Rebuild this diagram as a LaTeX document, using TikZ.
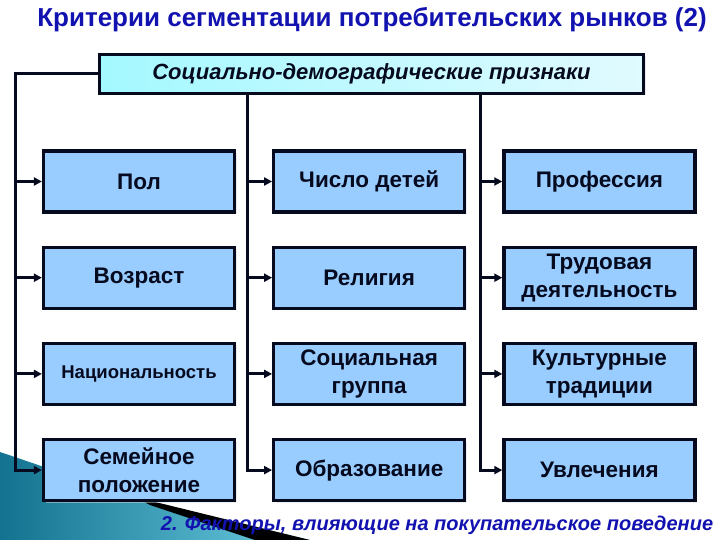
\documentclass[tikz,border=0pt]{standalone}
\usepackage{fontspec}
\setmainfont{Liberation Sans}
\usetikzlibrary{arrows.meta, positioning, shadows}
\definecolor{titleblue}{HTML}{1212B0}
\definecolor{boxblue}{HTML}{99CCFF}
\definecolor{hdrcyan}{HTML}{CCF7FF}
\definecolor{tealdark}{HTML}{13728F}
\definecolor{teallight}{HTML}{6CCDE2}
\definecolor{inkdark}{HTML}{050A1E}
\tikzstyle{crit} = [rectangle, draw=inkdark, line width=3.2pt, fill=boxblue, text=inkdark, text centered, align=center, minimum width=191pt, minimum height=61pt, font=\fontsize{22.5}{28}\bfseries, drop shadow={shadow xshift=2pt, shadow yshift=-2pt, fill=black!15}]
\tikzstyle{header} = [rectangle, draw=inkdark, line width=3.8pt, left color=hdrcyan!80!cyan, right color=hdrcyan!60, text=inkdark, text centered, minimum width=544pt, minimum height=39pt, font=\fontsize{22}{24}\bfseries\itshape, drop shadow={shadow xshift=2pt, shadow yshift=-2pt, fill=black!15}]
\tikzstyle{arrow} = [draw=inkdark, line width=3pt, -{Triangle[length=8pt, width=8pt]}]

\begin{document}
\begin{tikzpicture}[x=1pt, y=-1pt]
\useasboundingbox (0,0) rectangle (720,540);
% Decoration
\shade[left color=tealdark, right color=teallight] (0,452) -- (150,503) -- (310,540) -- (0,540) -- cycle;
\fill[black] (135,497) -- (310,540) -- (255,540) -- (150,505) -- cycle;

% Title
\node (title) at (372,20) {\fontsize{26}{28}\bfseries\color{titleblue}Критерии сегментации потребительских рынков (2)};

% Nodes
\node (hdr) [header] at (371.5,74) {Социально-демографические признаки};

\node (pol) [crit] at (139,181.5) {Пол};
\node (deti) [crit, right=36pt of pol] {Число детей};
\node (prof) [crit, right=36pt of deti] {Профессия};

\node (vozr) [crit, below=32pt of pol] {Возраст};
\node (relig) [crit, below=32pt of deti] {Религия};
\node (trud) [crit, below=32pt of prof] {Трудовая\\деятельность};

\node (nats) [crit, below=32pt of vozr, font=\fontsize{18.5}{22}\bfseries] {Национальность};
\node (socgr) [crit, below=32pt of relig] {Социальная\\группа};
\node (kult) [crit, below=32pt of trud] {Культурные\\традиции};

\node (sem) [crit, below=32pt of nats] {Семейное\\положение};
\node (obraz) [crit, below=32pt of socgr] {Образование};
\node (uvl) [crit, below=32pt of kult] {Увлечения};

\coordinate (trunkL) at (15,0);
\coordinate (trunkM) at (247,0);
\coordinate (trunkR) at (480,0);

% Connections
\draw [arrow] (hdr.west) -- (hdr.west -| trunkL) |- (sem);
\foreach \n in {pol, vozr, nats}
  \draw [arrow] (\n -| trunkL) -- (\n);

\draw [arrow] (hdr.south -| trunkM) |- (obraz);
\foreach \n in {deti, relig, socgr}
  \draw [arrow] (\n -| trunkM) -- (\n);

\draw [arrow] (hdr.south -| trunkR) |- (uvl);
\foreach \n in {prof, trud, kult}
  \draw [arrow] (\n -| trunkR) -- (\n);

% Footer
\node (footer) at (437,525) {\fontsize{20}{22}\bfseries\itshape\color{titleblue}2. Факторы, влияющие на покупательское поведение};
\end{tikzpicture}
\end{document}
